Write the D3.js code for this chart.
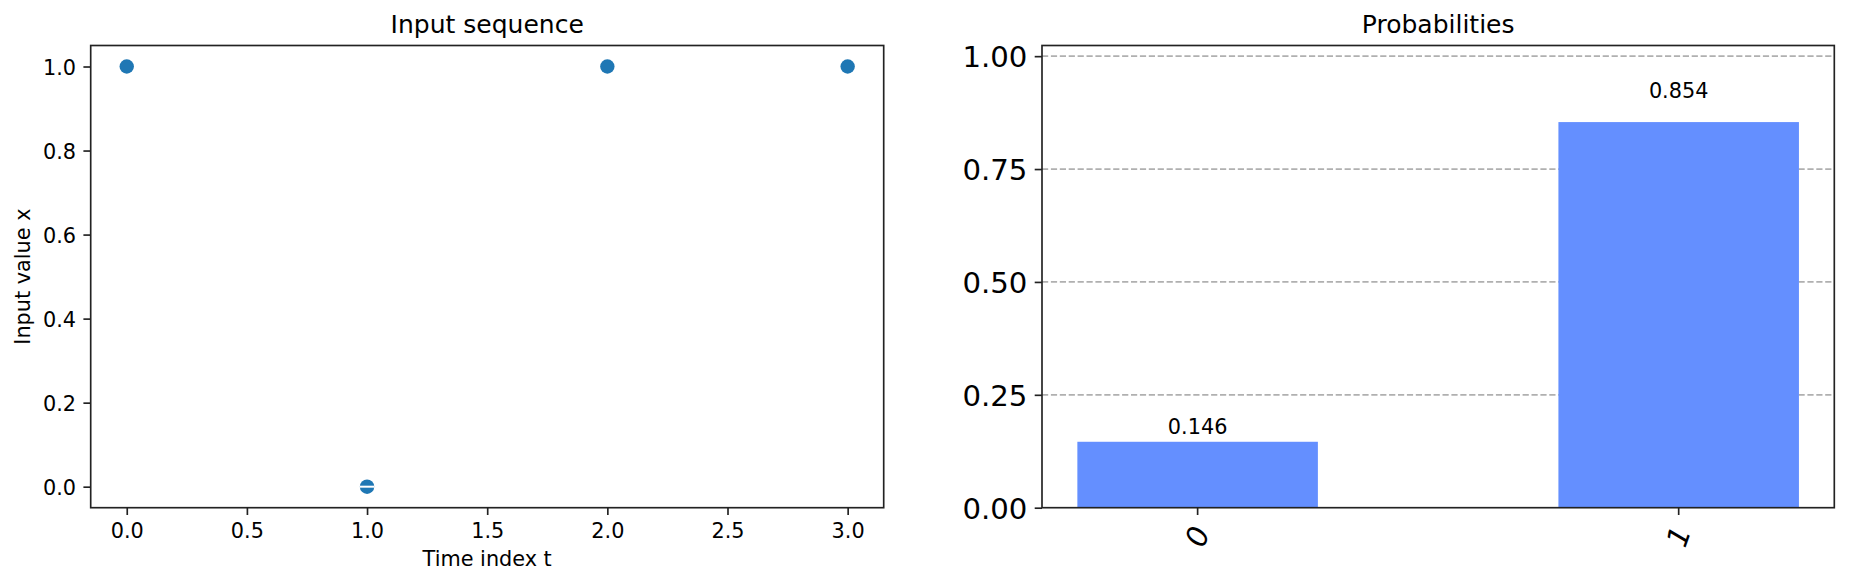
<!DOCTYPE html>
<html>
<head>
<meta charset="utf-8">
<script src="https://cdn.jsdelivr.net/npm/d3@7"></script>
<style>
  body { margin: 0; background: #fff; }
  svg text { font-family: "DejaVu Sans", sans-serif; fill: #000; }
</style>
</head>
<body>
<div id="chart"></div>
<script>
// data
var time_index = [0, 1, 2, 3];
var input_values = [1, 0, 1, 1];
var x_ticks = [0, 0.5, 1, 1.5, 2, 2.5, 3];
var y_ticks = [0, 0.2, 0.4, 0.6, 0.8, 1.0];

var states = ["0", "1"];
var probs = [0.146, 0.854];
var prob_ticks = [0, 0.25, 0.5, 0.75, 1.0];

var W = 1849, H = 586;
var svg = d3.select("#chart").append("svg")
    .attr("width", W)
    .attr("height", H);

svg.append("rect").attr("width", W).attr("height", H).attr("fill", "#fff");

var spine = "#222";
var tickLen = 7.3;

//Left panel: Input sequence
var L = {left: 90.7, right: 883.7, top: 45.5, bottom: 507.7};

var xScale = d3.scaleLinear().domain([-0.15, 3.15]).range([L.left, L.right]);
var yScale = d3.scaleLinear().domain([-0.05, 1.05]).range([L.bottom, L.top]);

var xAxis = d3.axisBottom(xScale).tickValues(x_ticks).tickFormat(d3.format(".1f"))
    .tickSizeInner(tickLen).tickSizeOuter(0).tickPadding(8);
var yAxis = d3.axisLeft(yScale).tickValues(y_ticks).tickFormat(d3.format(".1f"))
    .tickSizeInner(tickLen).tickSizeOuter(0).tickPadding(7.3);

var gx = svg.append("g")
    .attr("transform", "translate(0," + L.bottom + ")")
    .call(xAxis);
var gy = svg.append("g")
    .attr("transform", "translate(" + L.left + ",0)")
    .call(yAxis);

[gx, gy].forEach(function(g) {
    g.select(".domain").remove();
    g.selectAll(".tick line").attr("stroke", spine).attr("stroke-width", 1.67);
    g.selectAll(".tick text").style("font-size", "20.8px").attr("fill", "#000");
});
gy.selectAll(".tick text").attr("dy", "0.36em");

svg.append("rect")
    .attr("x", L.left).attr("y", L.top)
    .attr("width", L.right - L.left).attr("height", L.bottom - L.top)
    .attr("fill", "none").attr("stroke", spine).attr("stroke-width", 1.67);

var pts = svg.append("g").selectAll("g")
    .data(time_index.map(function(t, i) { return {t: t, x: input_values[i]}; }))
    .enter().append("g");

pts.append("circle")
    .attr("cx", function(d) { return xScale(d.t); })
    .attr("cy", function(d) { return yScale(d.x); })
    .attr("r", 7.2)
    .attr("fill", "#1f77b4");

// the point sitting on zero has a thin white stripe through it
pts.filter(function(d) { return d.x === 0; })
    .append("line")
    .attr("x1", function(d) { return xScale(d.t) - 7.2; })
    .attr("x2", function(d) { return xScale(d.t) + 7.2; })
    .attr("y1", function(d) { return yScale(d.x); })
    .attr("y2", function(d) { return yScale(d.x); })
    .attr("stroke", "#fff").attr("stroke-width", 2);

svg.append("text")
    .attr("x", (L.left + L.right) / 2).attr("y", 33)
    .attr("text-anchor", "middle")
    .style("font-size", "25px")
    .text("Input sequence");

svg.append("text")
    .attr("x", (L.left + L.right) / 2).attr("y", 566)
    .attr("text-anchor", "middle")
    .style("font-size", "20.8px")
    .text("Time index t");

svg.append("text")
    .attr("text-anchor", "middle")
    .attr("transform", "translate(30," + (L.top + L.bottom) / 2 + ")rotate(-90)")
    .style("font-size", "20.8px")
    .text("Input value x");

//Right panel: Probabilities
var R = {left: 1042, right: 1834.3, top: 45.5, bottom: 507.7};

var bxScale = d3.scaleLinear().domain([-0.3235, 1.3235]).range([R.left, R.right]);
var byScale = d3.scaleLinear().domain([0, 1.0236]).range([R.bottom, R.top]);
var barW = 0.5;

// dashed grid first so the bars sit on top
svg.append("g").selectAll("line")
    .data(prob_ticks.filter(function(d) { return d > 0; }))
    .enter().append("line")
    .attr("x1", R.left).attr("x2", R.right)
    .attr("y1", function(d) { return byScale(d); })
    .attr("y2", function(d) { return byScale(d); })
    .attr("stroke", "#b0b0b0").attr("stroke-width", 1.67)
    .attr("stroke-dasharray", "6.2,2.7");

svg.append("g").selectAll("rect")
    .data(probs)
    .enter().append("rect")
    .attr("x", function(d, i) { return bxScale(i - barW / 2); })
    .attr("width", function(d, i) { return bxScale(i + barW / 2) - bxScale(i - barW / 2); })
    .attr("y", function(d) { return byScale(d); })
    .attr("height", function(d) { return R.bottom - byScale(d); })
    .attr("fill", "#648fff");

svg.append("g").selectAll("text")
    .data(probs)
    .enter().append("text")
    .attr("x", function(d, i) { return bxScale(i); })
    .attr("y", function(d) { return byScale(d * 1.05) - 4.9; })
    .attr("text-anchor", "middle")
    .style("font-size", "20.8px")
    .text(function(d) { return d3.format(".3f")(d); });

var byAxis = d3.axisLeft(byScale).tickValues(prob_ticks).tickFormat(d3.format(".2f"))
    .tickSizeInner(tickLen).tickSizeOuter(0).tickPadding(7.3);
var gby = svg.append("g")
    .attr("transform", "translate(" + R.left + ",0)")
    .call(byAxis);
gby.select(".domain").remove();
gby.selectAll(".tick line").attr("stroke", spine).attr("stroke-width", 1.67);
gby.selectAll(".tick text").style("font-size", "29.2px").attr("fill", "#000").attr("dy", "0.36em");

var gbx = svg.append("g");
gbx.selectAll("line")
    .data(states)
    .enter().append("line")
    .attr("x1", function(d, i) { return bxScale(i); })
    .attr("x2", function(d, i) { return bxScale(i); })
    .attr("y1", R.bottom).attr("y2", R.bottom + tickLen)
    .attr("stroke", spine).attr("stroke-width", 1.67);
gbx.selectAll("text")
    .data(states)
    .enter().append("text")
    .attr("text-anchor", "middle")
    .attr("dominant-baseline", "central")
    .attr("transform", function(d, i) { return "translate(" + bxScale(i) + ",536.5)rotate(-70)"; })
    .style("font-size", "29.2px")
    .style("font-style", "italic")
    .text(function(d) { return d; });

svg.append("rect")
    .attr("x", R.left).attr("y", R.top)
    .attr("width", R.right - R.left).attr("height", R.bottom - R.top)
    .attr("fill", "none").attr("stroke", spine).attr("stroke-width", 1.67);

svg.append("text")
    .attr("x", (R.left + R.right) / 2).attr("y", 33)
    .attr("text-anchor", "middle")
    .style("font-size", "25px")
    .text("Probabilities");
</script>
</body>
</html>
